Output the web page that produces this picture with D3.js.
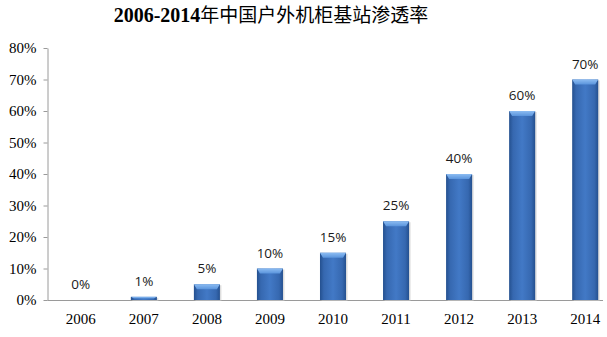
<!DOCTYPE html>
<html><head><meta charset="utf-8">
<script src="https://cdn.jsdelivr.net/npm/d3@7"></script>
<style>body{margin:0;background:#fff}svg{display:block}</style>
</head><body>
<svg id="c" width="607" height="337"></svg>
<script>
const years = ["2006","2007","2008","2009","2010","2011","2012","2013","2014"];
const values = [0, 1, 5, 10, 15, 25, 40, 60, 70];
const yTicks = [0, 10, 20, 30, 40, 50, 60, 70, 80];
const titleNum = "2006-2014";
const titleText = "年中国户外机柜基站渗透率";

const svg = d3.select("#c");
const x = d3.scaleBand().domain(years).range([49.5, 616.5]).paddingInner(0.587).paddingOuter(0.29);
const y = d3.scaleLinear().domain([0, 80]).range([300, 48]);

const defs = svg.append("defs");
const g = defs.append("linearGradient").attr("id","bar").attr("x1","0").attr("x2","1").attr("y1","0").attr("y2","0");
[["0","#24508f"],["0.15","#3668b0"],["0.5","#4279c6"],["0.85","#3668b0"],["1","#24508f"]].forEach(s=>g.append("stop").attr("offset",s[0]).attr("stop-color",s[1]));
const gt = defs.append("linearGradient").attr("id","top").attr("x1","0").attr("x2","0").attr("y1","0").attr("y2","1");
[["0","#8cbcf2"],["1","#5a94dc"]].forEach(s=>gt.append("stop").attr("offset",s[0]).attr("stop-color",s[1]));

// Title
const t = svg.append("text").attr("x", 271).attr("y", 22).attr("text-anchor","middle").attr("fill","#000");
t.append("tspan").attr("font-family","'Liberation Serif','Times New Roman',serif").attr("font-weight","bold").attr("font-size",20).text(titleNum);
t.append("tspan").attr("font-family","'Noto Sans CJK SC',sans-serif").attr("font-size",19).text(titleText);

// Y axis
const yAxis = svg.append("g").attr("transform","translate(47.5,0)")
  .call(d3.axisLeft(y).tickValues(yTicks).tickSize(4).tickSizeOuter(0).tickFormat(d=>d+"%"));
yAxis.select(".domain").attr("stroke","#9a9a9a");
yAxis.selectAll(".tick line").attr("stroke","#9a9a9a");
yAxis.selectAll(".tick text").attr("font-family","'Liberation Serif','Times New Roman',serif").attr("font-size",15).attr("fill","#000").attr("x",-11);

// X axis line
svg.append("line").attr("x1",47.5).attr("x2",603).attr("y1",y(0)+0.5).attr("y2",y(0)+0.5).attr("stroke","#9a9a9a");

// X labels
svg.append("g").selectAll("text").data(years).join("text")
  .attr("x", d=>x(d)+x.bandwidth()/2).attr("y", 324).attr("text-anchor","middle")
  .attr("font-family","'Liberation Serif','Times New Roman',serif").attr("font-size",15).attr("fill","#000").text(d=>d);

// Bars
const bars = svg.append("g").selectAll("g").data(years.map((d,i)=>({year:d,v:values[i]}))).join("g");
bars.filter(d=>d.v>0).append("rect")
  .attr("x", d=>x(d.year)+1.5).attr("y", d=>y(d.v)+1).attr("width", x.bandwidth()).attr("height", d=>y(0)-y(d.v))
  .attr("fill","#c8c8c8").attr("opacity",0.6);
bars.filter(d=>d.v>0).append("rect")
  .attr("x", d=>x(d.year)).attr("y", d=>y(d.v)).attr("width", x.bandwidth()).attr("height", d=>y(0)-y(d.v))
  .attr("fill","url(#bar)");
bars.filter(d=>d.v>0).append("path")
  .attr("d", d=>{
    const x0=x(d.year), w=x.bandwidth(), y0=y(d.v), h=Math.min(5, (y(0)-y(d.v))/2);
    return `M${x0},${y0}L${x0+w},${y0}L${x0+w-3},${y0+h}L${x0+3},${y0+h}Z`;
  }).attr("fill","url(#top)");

// Value labels
bars.append("text")
  .attr("x", d=>x(d.year)+x.bandwidth()/2).attr("y", d=>y(d.v)-11).attr("text-anchor","middle")
  .attr("font-family","'Open Sans',sans-serif").attr("font-size",13.5).attr("fill","#1a1a1a").text(d=>d.v+"%");
</script>
</body></html>
